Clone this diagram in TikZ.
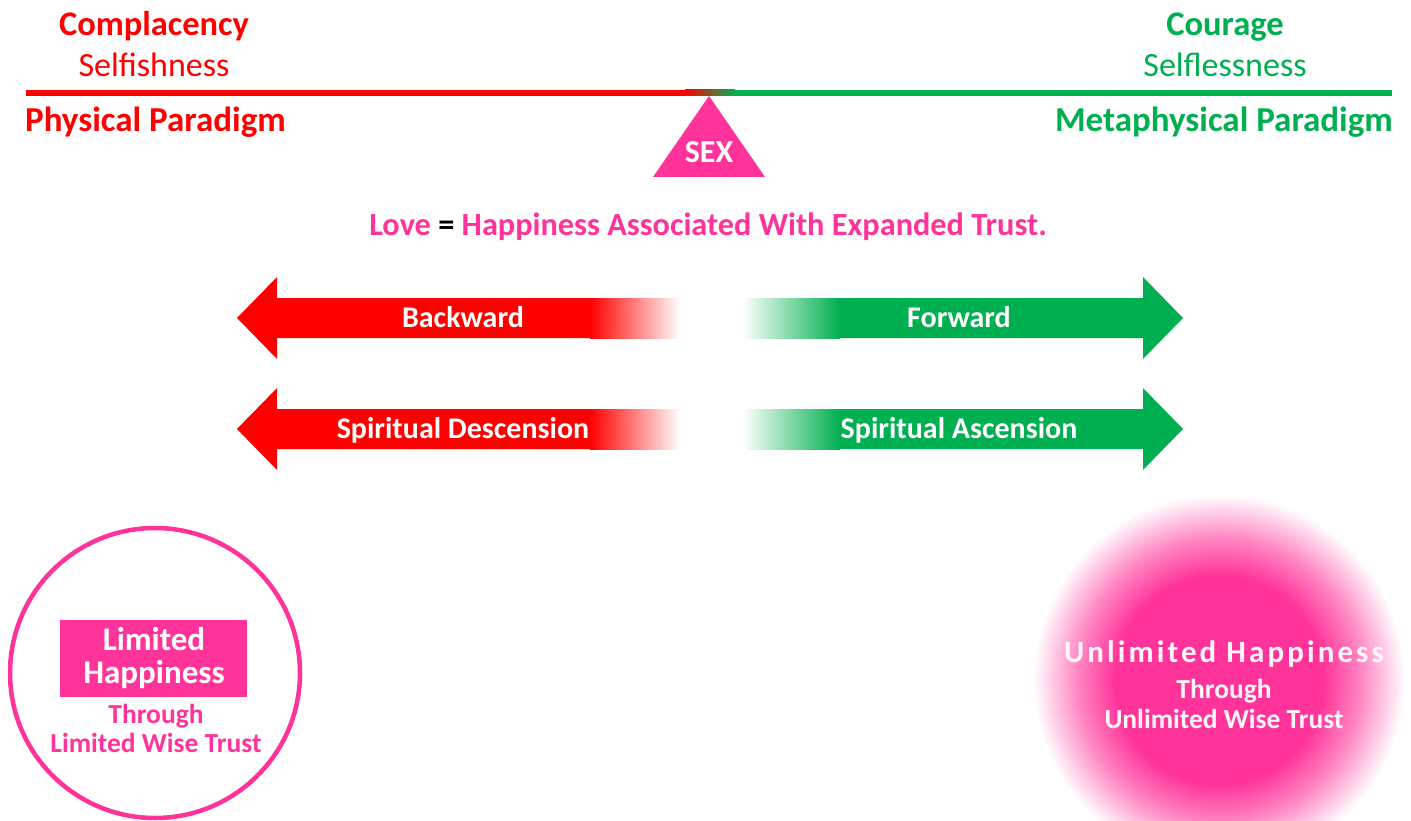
\documentclass[tikz,border=0pt]{standalone}
\usepackage{fontspec}
\setmainfont{Carlito}
\definecolor{pinkc}{RGB}{255,51,153}
\definecolor{redc}{RGB}{255,0,0}
\definecolor{greenc}{RGB}{0,176,80}
\colorlet{pinkmid}{pinkc!60!white}
\pgfdeclareradialshading{glow}{\pgfpoint{0bp}{0bp}}{color(0bp)=(pinkc); color(14bp)=(pinkc); color(19bp)=(pinkmid); color(25bp)=(white); color(50bp)=(white)}
\begin{document}
\begin{tikzpicture}[x=1pt,y=-1pt,
  txt/.style={inner sep=0pt,anchor=base},
  wlab/.style={txt,text=white,font=\fontsize{30}{30}\selectfont\bfseries}]
\useasboundingbox[fill=white] (0,0) rectangle (1411,821);

% top labels
\node[txt,text=redc,font=\fontsize{34.5}{34}\selectfont\bfseries] (compl) at (154,36) {Complacency};
\node[txt,text=redc,font=\fontsize{34}{34}\selectfont] (selfish) at (154,77) {Selfishness};
\node[txt,anchor=base west,text=redc,font=\fontsize{35}{34}\selectfont\bfseries] (phys) at (25,132) {Physical Paradigm};
\node[txt,text=greenc,font=\fontsize{34.5}{34}\selectfont\bfseries] (courage) at (1225,36) {Courage};
\node[txt,text=greenc,font=\fontsize{34}{34}\selectfont] (selfless) at (1225,77) {Selflessness};
\node[txt,anchor=base east,text=greenc,font=\fontsize{35}{34}\selectfont\bfseries] (meta) at (1393,132) {Metaphysical Paradigm};

% horizontal line
\fill[redc] (26,90) rectangle (686,96);
\fill[greenc] (734,90) rectangle (1392,96);
\shade[left color=redc,right color=greenc] (685,90) rectangle (735,96);

% triangle
\fill[pinkc] (709,96) -- (765,177) -- (653,177) -- cycle;
\node[txt,text=white,font=\fontsize{32}{32}\selectfont\bfseries] (sex) at (709,163) {SEX};

% love line
\node[txt,font=\fontsize{32.3}{32}\selectfont\bfseries] (love) at (708,236)
  {\textcolor{pinkc}{Love} = \textcolor{pinkc}{Happiness Associated With Expanded Trust.}};

% arrows
\foreach \yc in {318,429}{
  \fill[redc] (237,\yc) -- (277,\yc-41) -- (277,\yc-20) -- (591,\yc-20) -- (591,\yc+20) -- (277,\yc+20) -- (277,\yc+41) -- cycle;
  \shade[left color=redc,right color=white] (590,\yc-20) rectangle (680,\yc+20);
  \fill[greenc] (1183,\yc) -- (1143,\yc-41) -- (1143,\yc-20) -- (839,\yc-20) -- (839,\yc+20) -- (1143,\yc+20) -- (1143,\yc+41) -- cycle;
  \shade[left color=white,right color=greenc] (742,\yc-20) rectangle (840,\yc+20);
}
\node[wlab] (backward) at (463,327) {Backward};
\node[wlab] (descension) at (463,438) {Spiritual Descension};
\node[wlab] (forward) at (959,327) {Forward};
\node[wlab] (ascension) at (959,438) {Spiritual Ascension};

% left circle
\draw[pinkc,line width=4.5pt] (155,673) circle[radius=145pt];
\fill[pinkc] (60,620) rectangle (247,697);
\node[txt,text=white,font=\fontsize{33}{33}\selectfont\bfseries] (lim1) at (154,650) {Limited};
\node[txt,text=white,font=\fontsize{33}{33}\selectfont\bfseries] (lim2) at (154,683) {Happiness};
\node[txt,text=pinkc,font=\fontsize{27.5}{27}\selectfont\bfseries] (thr1) at (156,723) {Through};
\node[txt,text=pinkc,font=\fontsize{27.5}{27}\selectfont\bfseries] (thr2) at (156,752) {Limited Wise Trust};

% right glow circle
\shade[shading=glow] (1219,680) circle[radius=186pt];
\node[txt,text=white!96!pinkc,font=\fontsize{31}{31}\selectfont\bfseries\addfontfeature{LetterSpace=10}] (unl) at (1224,662) {Unlimited Happiness};
\node[txt,text=white!96!pinkc,font=\fontsize{27.5}{27}\selectfont\bfseries] (thr3) at (1224,698) {Through};
\node[txt,text=white!96!pinkc,font=\fontsize{27.5}{27}\selectfont\bfseries] (thr4) at (1224,728) {Unlimited Wise Trust};
\end{tikzpicture}
\end{document}
